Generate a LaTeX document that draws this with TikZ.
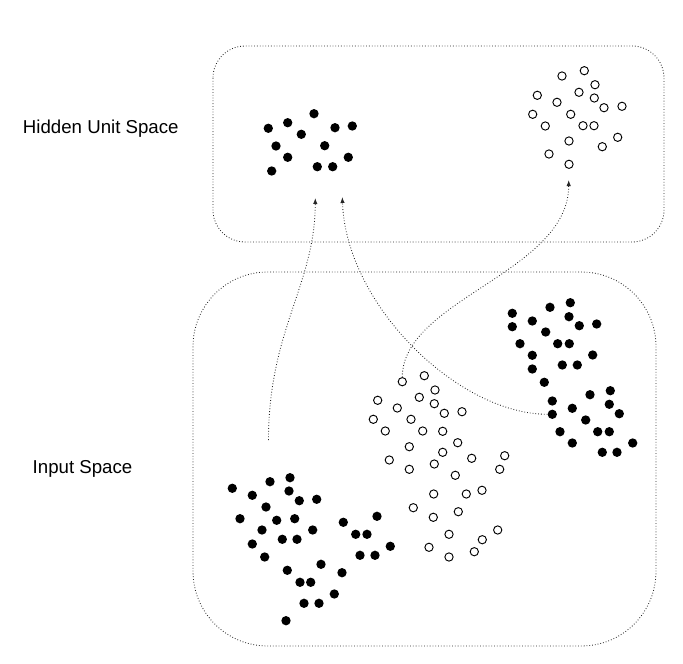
\documentclass[tikz,border=0pt]{standalone}
\usepackage{fontspec}
\setmainfont{Liberation Sans}
\usetikzlibrary{arrows.meta}

\begin{document}
\begin{tikzpicture}[x=0.75pt,y=-0.75pt,%
        fd/.style={circle, fill=black, inner sep=0pt, minimum size=7pt},%
        od/.style={circle, draw, line width=0.7pt, fill=white,%
                        inner sep=0pt, minimum size=6.2pt},%
        box/.style={draw=black!85, line width=0.65pt,%
                        dash pattern=on 0.6pt off 1.5pt},%
        link/.style={box, -{Latex[length=4.5pt,width=3.3pt]}},%
        lbl/.style={anchor=base, font=\fontsize{14}{16}\selectfont}]
\useasboundingbox (0,0) rectangle (683,664);
\draw[box, rounded corners=24pt] (213,46) rectangle (664,242);
\draw[box, rounded corners=56pt] (193,272) rectangle (656,646);
\node[lbl] (hlabel) at (100.8,133.3) {Hidden Unit Space};
\node[lbl] (ilabel) at (82.5,473) {Input Space};
% hidden unit space
\foreach \x/\y [count=\i] in {268.3/128.3, 287.7/122.7, 314/113.7, 301.3/134.3,
        335/127.7, 352.3/126, 276/146, 324.7/145.7, 287.7/157.3, 348.3/157.3,
        271.7/171, 317.3/166.7, 332.7/166.7}
    \node[fd] (hf\i) at (\x,\y) {};
\foreach \x/\y [count=\i] in {562/76, 584.3/70.7, 595/84.7, 537.3/95.3,
        579/92.3, 557/102.3, 594.3/98, 604/107.7, 622/106.3, 532.7/114.3,
        570.7/114.3, 545.3/126, 583/125.7, 594/125.7, 617.7/137.3, 569/141,
        602.3/146.7, 549/154, 569/164.3}
    \node[od] (ho\i) at (\x,\y) {};
% input space
\foreach \x/\y [count=\i] in {512.3/313.3, 550/307.3, 570.3/302.7, 532.3/321,
        569/316.7, 512.3/326.7, 545.7/332, 579.3/325.7, 596.7/324, 520/343.7,
        557.7/343.7, 569.3/343.7, 532.3/355.3, 592.7/355, 562.3/365, 577.3/365,
        532.3/369, 544.3/382.3, 610.3/390.7, 590/394.7, 552.3/401, 609.3/404.3,
        572.3/408.3, 619.3/413.7, 585.7/420, 560/431.7, 597.7/431.7,
        609.3/431.7, 572.3/443, 632.7/443, 602.3/452.3, 617/452.3}
    \node[fd] (rf\i) at (\x,\y) {};
\node[fd] (rsrc) at (552.3,414.3) {};
\foreach \x/\y [count=\i] in {424.3/375.7, 435/390, 377.7/400.3, 419.3/397.3,
        434.3/403.7, 397.3/408, 444.3/413.3, 462/411.7, 373.3/419.3, 411/419.3,
        385.3/431, 422.7/431, 442.7/431.3, 409.3/446.7, 457.7/442.7,
        442.7/452.3, 389.3/460, 471.7/458.3, 504.7/455.7, 409.3/469.3,
        434.3/464, 499.7/469.3, 455.3/475.3, 433.7/494, 466.3/494, 482/490.3,
        413.3/507.7, 433.3/517.3, 458.3/511.7, 449/534.3, 497.7/530,
        482.3/539.7, 429/547.3, 449/557, 474.3/551.7}
    \node[od] (mo\i) at (\x,\y) {};
\node[od] (msrc) at (402.3,381.7) {};
\foreach \x/\y [count=\i] in {232.3/488.3, 252.3/495.3, 270/481.7, 290/477.7,
        289/491, 299.3/500.7, 316.7/499.3, 266/507, 240/518.7, 276.7/520.3,
        294.7/518.7, 262/530, 312.7/530, 343.3/522.3, 377/516.3, 252.3/544,
        282.3/539.3, 297/539.3, 355.7/534.3, 367/534.3, 264.7/557, 390.3/546.3,
        360/555.3, 375/555.3, 321/564.3, 287.3/570.3, 342/572.7, 300/582.3,
        310.7/582.3, 334.3/594, 304/603.3, 319/603.3, 286/620.7}
    \node[fd] (lf\i) at (\x,\y) {};
\coordinate (lsrc) at (268.5,440);
\coordinate (t1) at (315.3,198);
\coordinate (t2) at (342.3,197);
\coordinate (t3) at (568.7,180);
\draw[link] (lsrc) .. controls (268.5,330) and (315,285) .. (t1);
\draw[link] (rsrc.west) .. controls (458,414) and (346,305) .. (t2);
\draw[link] (msrc.north) .. controls (402.3,300) and (568.7,272) .. (t3);
\end{tikzpicture}
\end{document}
